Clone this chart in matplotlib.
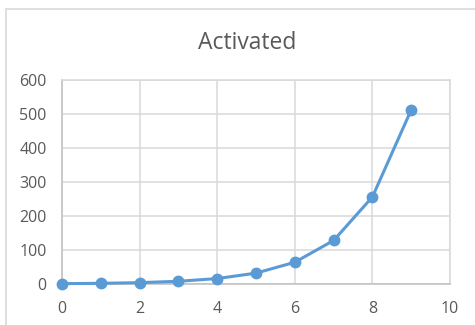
import matplotlib.pyplot as plt
from matplotlib.patches import Rectangle

# series
x_vals = [0, 1, 2, 3, 4, 5, 6, 7, 8, 9]
activated = [1, 2, 4, 8, 16, 32, 64, 128, 256, 512]
x_ticks = [0, 2, 4, 6, 8, 10]
y_ticks = [0, 100, 200, 300, 400, 500, 600]

plt.rcParams['font.family'] = ['Open Sans', 'DejaVu Sans']

W, H = 475, 325
fig = plt.figure(figsize=(W / 100, H / 100), dpi=100)
fig.patch.set_facecolor('white')

# outer chart border
fig.patches.append(Rectangle((6 / W, -0.1), 1.2, 1 - 9 / H + 0.1,
                             transform=fig.transFigure, fill=False,
                             edgecolor='#d9d9d9', linewidth=1.2))

ax = fig.add_axes([62 / W, 1 - 284 / H, (450 - 62) / W, (284 - 80) / H])
ax.plot(x_vals, activated, color='#5b9bd5', linewidth=2.2, marker='o',
        markersize=7.5, clip_on=False, zorder=3)

ax.set_xlim(0, 10)
ax.set_ylim(0, 600)
ax.set_xticks(x_ticks)
ax.set_yticks(y_ticks)
ax.grid(True, color='#d9d9d9', linewidth=1.1)
ax.set_axisbelow(True)
for s in ax.spines.values():
    s.set_color('#d9d9d9')
    s.set_linewidth(1.1)
ax.spines['left'].set_color('#bfbfbf')
ax.spines['bottom'].set_color('#bfbfbf')
ax.tick_params(length=0, colors='#595959', labelsize=11.5)
ax.tick_params(axis='y', pad=11)
ax.tick_params(axis='x', pad=12)

fig.text(0.5 + 10 / W, 1 - 43 / H, 'Activated', ha='center', va='center',
         fontsize=16.5, color='#595959')

fig.savefig('out.png', dpi=100)
